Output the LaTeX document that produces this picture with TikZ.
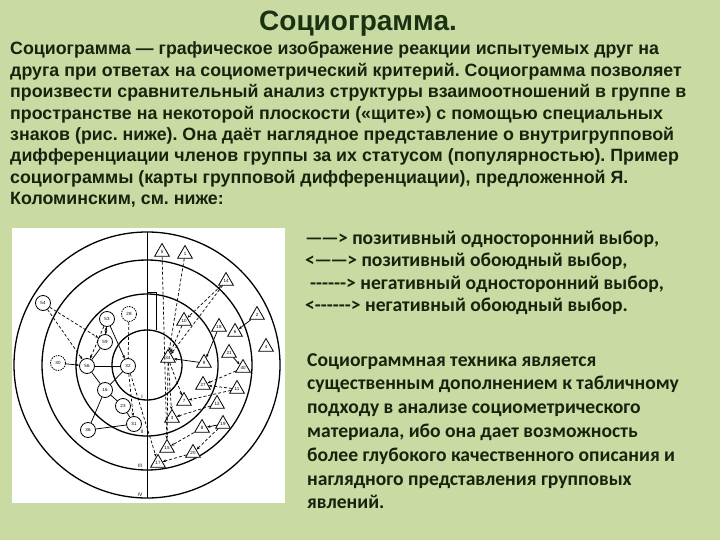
\documentclass[tikz,border=0pt]{standalone}
\usepackage{fontspec}
\setmainfont{Liberation Sans}
\newfontfamily\calfont{Carlito}
\usetikzlibrary{shapes.geometric,arrows.meta}
\definecolor{bg}{RGB}{201,218,162}
\definecolor{ink}{RGB}{22,36,14}
\definecolor{titleink}{RGB}{26,50,18}
\frenchspacing
\newcommand{\emd}{—\kern-1.8pt—\kern-0.8pt}
\tikzset{
  txt/.style={anchor=base west, inner sep=0, text=ink},
  bodytxt/.style={txt, font=\bfseries\fontsize{17.8}{20}\selectfont},
  caltxt/.style={txt, font=\calfont\bfseries\fontsize{19.6}{22}\selectfont},
  ring/.style={draw=black, line width=1.3pt},
  man/.style={circle, draw=black, line width=0.8pt, fill=white, minimum size=15pt, inner sep=0, font=\fontsize{4.5}{5}\selectfont},
  mandash/.style={man, dashed, dash pattern=on 1.5pt off 1pt},
  woman/.style={regular polygon, regular polygon sides=3, draw=black, line width=0.8pt, fill=white, minimum size=17pt, inner sep=0, font=\fontsize{4.5}{5}\selectfont},
  posarr/.style={line width=0.75pt, -{Stealth[length=3.5pt,width=2.6pt]}},
  posline/.style={line width=0.75pt},
  negarr/.style={line width=0.7pt, dashed, dash pattern=on 3pt off 2pt, -{Stealth[length=3.5pt,width=2.6pt]}},
  negline/.style={line width=0.7pt, dashed, dash pattern=on 3pt off 2pt},
  roman/.style={inner sep=0, font=\fontsize{5}{5}\selectfont}
}
\begin{document}
\begin{tikzpicture}[x=1pt,y=-1pt]
\fill[bg] (0,0) rectangle (720,540);
\useasboundingbox (0,0) rectangle (720,540);

% title
\node[anchor=base, inner sep=0, text=titleink, font=\bfseries\fontsize{28}{30}\selectfont] (title) at (358,31) {Социограмма.};

% first paragraph
\foreach \t [count=\i from 0] in {
 {Социограмма — графическое изображение реакции испытуемых друг на},
 {друга при ответах на социометрический критерий. Социограмма позволяет},
 {произвести сравнительный анализ структуры взаимоотношений в группе в},
 {пространстве на некоторой плоскости («щите») с помощью специальных},
 {знаков (рис. ниже). Она даёт наглядное представление о внутригрупповой},
 {дифференциации членов группы за их статусом (популярностью). Пример},
 {социограммы (карты групповой дифференциации), предложенной Я.},
 {Коломинским, см. ниже:}}
  \node[bodytxt, name=p\i] at (10,{55+21.4*\i}) {\t};

% legend
\node[caltxt] (lg1) at (305,244) {\emd> позитивный односторонний выбор,};
\node[caltxt] (lg2) at (305,266) {<\kern-0.5pt\emd> позитивный обоюдный выбор,};
\node[caltxt] (lg3) at (310,289) {------> негативный односторонний выбор,};
\node[caltxt] (lg4) at (305,311) {<------> негативный обоюдный выбор.};

% second paragraph
\foreach \t [count=\i from 0] in {
 {Социограммная техника является},
 {существенным дополнением к табличному},
 {подходу в анализе социометрического},
 {материала, ибо она дает возможность},
 {более глубокого качественного описания и},
 {наглядного представления групповых},
 {явлений.}}
  \node[caltxt, name=q\i] at (307,{366+23.8*\i}) {\t};

% picture panel
\fill[white] (12,228) rectangle (285,503);
\coordinate (c) at (147,365);
\draw[ring] (c) circle (133);
\draw[ring] (c) circle (105);
\draw[ring] (c) circle (71);
\draw[ring] (c) circle (35);
\coordinate (vt) at (147,232);
\coordinate (vb) at (147,498);
\draw[line width=1pt] (vt) -- (vb);
\coordinate (j1) at (147,292);
\coordinate (j2) at (156,292);
\coordinate (j3) at (156,330);
\draw[line width=0.8pt] (j1) -- (j2) -- (j3);

\node[roman] (r1) at (142,397) {I};
\node[roman] (r2) at (142,432) {II};
\node[roman] (r3) at (140,466) {III};
\node[roman] (r4) at (140,495) {IV};

% men
\node[man] (m54) at (43,303) {54};
\node[mandash] (m30) at (58,363) {30};
\node[man] (m56) at (87,366) {56};
\node[man] (m53) at (107,319) {53};
\node[mandash] (m28) at (129,314) {28};
\node[man] (m59) at (105,342) {59};
\node[man] (m32) at (128,366) {32};
\node[man] (m16) at (105,390) {16};
\node[man] (m23) at (123,406) {23};
\node[man] (m31) at (134,424) {31};
\node[man] (m36) at (88,430) {36};

% women
\node[woman] (w5) at (162,252) {5};
\node[woman] (w1) at (185,254) {1};
\node[woman] (w14) at (226,281) {14};
\node[woman] (w2) at (257,315) {2};
\node[woman] (w10) at (184,321) {10};
\node[woman] (w18) at (219,327) {18};
\node[woman] (w6) at (235,332) {6};
\node[woman] (w4) at (266,347) {4};
\node[woman] (w21) at (229,353) {21};
\node[woman] (w34) at (168,358) {34};
\node[woman] (w9) at (204,363) {9};
\node[woman] (w40) at (243,368) {40};
\node[woman] (w27) at (203,385) {27};
\node[woman] (w11) at (237,389) {11};
\node[woman] (w7) at (184,401) {7};
\node[woman] (w12) at (217,404) {12};
\node[woman] (w3) at (172,418) {3};
\node[woman] (w8) at (202,428) {8};
\node[woman] (w19) at (223,424) {19};
\node[woman] (w15) at (167,448) {15};
\node[woman] (w20) at (193,453) {20};
\node[woman] (w17) at (158,463) {17};

% connectors among men
\draw[posarr] (m30) -- (m56);
\draw[posline] (m56) -- (m32);
\draw[posline] (m56) -- (m59);
\draw[posline] (m56) -- (m16);
\draw[posarr] (m53) -- (m59);
\draw[posarr] (m59) -- (m53);
\draw[posarr] (m53) -- (m32);
\draw[posline] (m16) -- (m23);
\draw[posline] (m16) -- (m36);
\draw[posline] (m36) -- (m31);
\draw[posline] (m23) -- (m31);
\draw[posline] (m32) -- (m16);
\draw[negarr] (m54) -- (m59);
\draw[negarr] (m54) -- (m56);
\draw[negarr] (m53) -- (m56);
\draw[negline] (m28) -- (m32);
\draw[negarr] (m32) -- (m31);
\draw[negarr] (m32) -- (w17);

% connectors among women
\draw[negarr] (w5) -- (w15);
\draw[negarr] (w1) -- (w34);
\draw[negarr] (w14) -- (w34);
\draw[negarr] (w14) -- (w10);
\draw[negarr] (w10) -- (w34);
\draw[posarr] (w2) -- (w6);
\draw[posarr] (w18) -- (w9);
\draw[posarr] (w9) -- (w34);
\draw[posarr] (w21) -- (w40);
\draw[negarr] (w40) -- (w27);
\draw[negarr] (w11) -- (w27);
\draw[negarr] (w11) -- (w7);
\draw[negarr] (w12) -- (w3);
\draw[posarr] (w19) -- (w8);
\draw[negarr] (w8) -- (w15);
\draw[negarr] (w19) -- (w20);
\draw[negarr] (w20) -- (w17);
\draw[negarr] (w34) -- (w3);
\draw[negarr] (w34) -- (w7);
\draw[negline] (w34) -- (w15);
\end{tikzpicture}
\end{document}
